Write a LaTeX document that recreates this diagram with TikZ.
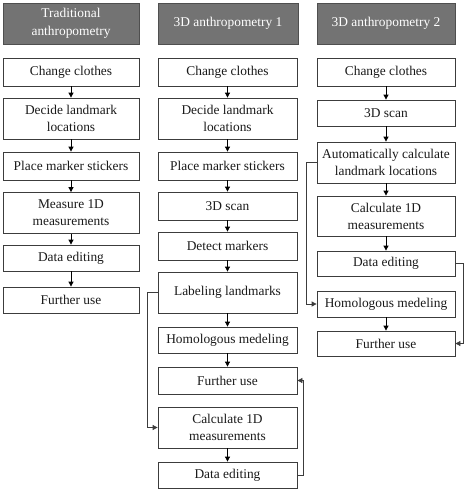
\documentclass[tikz,border=0pt]{standalone}
\usepackage{fontspec}
\setmainfont{Liberation Serif}
\usetikzlibrary{arrows.meta}
\definecolor{hdrfill}{HTML}{737373}
\definecolor{hdrdraw}{HTML}{4F4F4F}
\definecolor{boxdraw}{HTML}{3C3C3C}
\definecolor{txt}{HTML}{1A1A1A}
\begin{document}
\begin{tikzpicture}[x=1pt,y=-1pt,
  box/.style={draw=boxdraw,line width=0.8pt,fill=white,inner sep=0pt,align=center,text=txt,
    font=\fontsize{13.4}{17}\selectfont},
  hdr/.style={draw=hdrdraw,line width=0.8pt,fill=hdrfill,inner sep=0pt,align=center,text=white,
    font=\fontsize{13.4}{18}\selectfont,minimum height=41pt},
  arr/.style={draw=black,line width=0.8pt,-{Triangle[length=5pt,width=5pt]}},
  fb/.style={draw=boxdraw,line width=0.8pt,-{Triangle[length=5pt,width=5pt]}}
]
\useasboundingbox (0,0) rectangle (467,493);
% headers
\node[hdr,minimum width=136pt] (h1) at (71,23.5) {Traditional\\anthropometry};
\node[hdr,minimum width=140pt] (h2) at (228,23.5) {3D anthropometry 1};
\node[hdr,minimum width=138pt] (h3) at (386,23.5) {3D anthropometry 2};
% column 1
\begin{scope}[every node/.append style={box,minimum width=136pt}]
\node[minimum height=28pt] (a1) at (71,72) {Change clothes};
\node[minimum height=41pt] (a2) at (71,118.5) {Decide landmark\\locations};
\node[minimum height=28pt] (a3) at (71,166) {Place marker stickers};
\node[minimum height=41pt] (a4) at (71,213) {Measure 1D\\measurements};
\node[minimum height=26pt] (a5) at (71,258) {Data editing};
\node[minimum height=26pt] (a6) at (71,300) {Further use};
\end{scope}
% column 2
\begin{scope}[every node/.append style={box,minimum width=139pt}]
\node[minimum height=28pt] (b1) at (227.5,72) {Change clothes};
\node[minimum height=41pt] (b2) at (227.5,118.5) {Decide landmark\\locations};
\node[minimum height=28pt] (b3) at (227.5,166) {Place marker stickers};
\node[minimum height=28pt] (b4) at (227.5,206) {3D scan};
\node[minimum height=28pt] (b5) at (227.5,246) {Detect markers};
\node[minimum height=41pt] (b6) at (227.5,292.5) {Labeling landmarks};
\node[minimum height=26pt] (b7) at (227.5,340) {Homologous medeling};
\node[minimum height=27pt] (b8) at (227.5,380.5) {Further use};
\node[minimum height=41pt] (b9) at (227.5,427.5) {Calculate 1D\\measurements};
\node[minimum height=26pt] (b10) at (227.5,475) {Data editing};
\end{scope}
% column 3
\begin{scope}[every node/.append style={box,minimum width=138pt}]
\node[minimum height=28pt] (c1) at (386,72) {Change clothes};
\node[minimum height=26pt] (c2) at (386,113) {3D scan};
\node[minimum height=41pt] (c3) at (386,162.5) {Automatically calculate\\landmark locations};
\node[minimum height=40pt] (c4) at (386,216) {Calculate 1D\\measurements};
\node[minimum height=25pt] (c5) at (386,263.5) {Data editing};
\node[minimum height=26pt] (c6) at (386,304) {Homologous medeling};
\node[minimum height=25pt] (c7) at (386,343.5) {Further use};
\end{scope}
% column 1 arrows
\foreach \p/\q in {a1/a2,a2/a3,a3/a4,a4/a5,a5/a6}{\draw[arr] (\p) -- (\q);}
% column 2 arrows
\foreach \p/\q in {b1/b2,b2/b3,b3/b4,b4/b5,b5/b6,b6/b7,b7/b8,b9/b10}{\draw[arr] (\p) -- (\q);}
% column 3 arrows
\foreach \p/\q in {c1/c2,c2/c3,c3/c4,c4/c5,c6/c7}{\draw[arr] (\p) -- (\q);}
% feedback connectors
\draw[fb] (b6.west) -- ++(-10,0) |- (b9.west);
\draw[fb] (b10.east) -- ++(6,0) |- (b8.east);
\draw[fb] (c3.west) -- ++(-10,0) |- (c6.west);
\draw[fb] (c5.east) -- ++(8,0) |- (c7.east);
\end{tikzpicture}
\end{document}
